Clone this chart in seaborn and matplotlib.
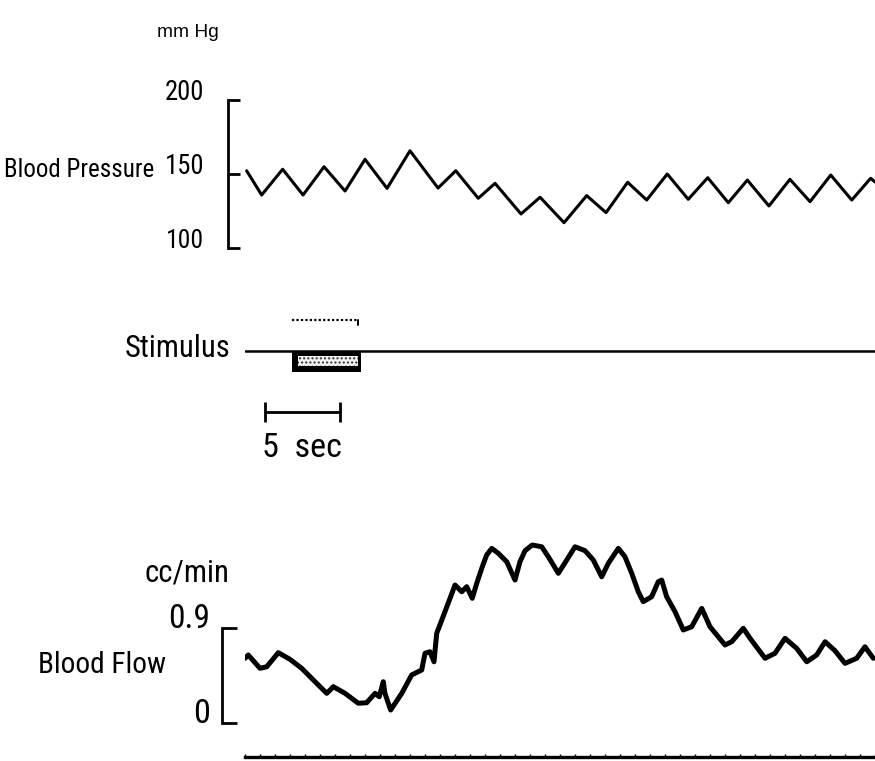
import matplotlib
matplotlib.use("Agg")
import matplotlib.pyplot as plt
import matplotlib.transforms as mtransforms
from matplotlib import font_manager
import seaborn as sns
import numpy as np

# ---------------- data ----------------
# Blood pressure trace (time in s, mmHg)
bp_t = [0.11, 1.11, 2.51, 3.87, 5.27, 6.67, 8.00, 9.47, 11.00, 12.87,
        14.05, 15.55, 16.67, 18.40, 19.67, 21.27, 22.78, 24.07, 25.51, 26.78,
        28.15, 29.55, 30.85, 32.22, 33.49, 34.93, 36.33, 37.67, 39.05, 40.45,
        41.71, 42.0]
bp_v = [152.2, 135.8, 153.2, 135.8, 154.9, 138.5, 159.9, 140.3, 165.7, 140.5,
        152.2, 133.6, 143.7, 123.0, 134.3, 117.1, 135.4, 123.9, 144.4, 132.4,
        150.0, 132.9, 147.5, 130.6, 145.9, 128.4, 146.4, 131.3, 149.3, 132.4,
        147.1, 144.6]
bp_ticks = [100, 150, 200]
bp_ticklabels = ["100", "150", "200"]

# Blood flow trace (time in s, cc/min)
flow_t = [0.00, 0.22, 1.00, 1.45, 2.22, 3.00, 3.78, 4.67, 5.45, 5.89,
          6.67, 7.55, 8.11, 8.67, 8.95, 9.22, 9.33, 9.71, 10.45, 11.11,
          11.78, 12.00, 12.33, 12.60, 12.78, 13.22, 13.67, 14.00, 14.45, 14.78,
          15.15, 15.45, 15.82, 16.11, 16.45, 16.89, 17.45, 18.00, 18.33, 18.67,
          19.15, 19.78, 20.22, 20.89, 21.45, 22.00, 22.67, 23.22, 23.78, 24.22,
          24.89, 25.33, 25.78, 26.22, 26.55, 27.11, 27.55, 27.78, 28.11, 28.67,
          29.22, 29.78, 30.45, 31.00, 32.00, 32.45, 33.22, 33.67, 34.67, 35.33,
          36.00, 36.78, 37.45, 38.11, 38.67, 39.33, 40.00, 40.78, 41.33, 41.89]
flow_v = [0.613, 0.644, 0.518, 0.533, 0.666, 0.603, 0.518, 0.391, 0.281, 0.344,
          0.281, 0.187, 0.192, 0.281, 0.249, 0.391, 0.281, 0.123, 0.281, 0.455,
          0.502, 0.660, 0.675, 0.580, 0.849, 1.013, 1.181, 1.307, 1.243, 1.291,
          1.181, 1.323, 1.480, 1.591, 1.654, 1.607, 1.527, 1.354, 1.527, 1.632,
          1.686, 1.669, 1.575, 1.418, 1.544, 1.669, 1.632, 1.544, 1.385, 1.512,
          1.654, 1.575, 1.418, 1.243, 1.149, 1.196, 1.338, 1.354, 1.196, 1.054,
          0.881, 0.912, 1.086, 0.912, 0.739, 0.770, 0.897, 0.802, 0.613, 0.660,
          0.802, 0.707, 0.580, 0.644, 0.770, 0.685, 0.565, 0.613, 0.722, 0.613]
flow_ticks = [0, 0.9]
flow_ticklabels = ["0", "0.9"]

# Stimulus (on between these times, seconds)
stim_on = 3.1
stim_off = 7.7
t_end = 42.0
scale_start = 1.3
scale_len = 5  # seconds

# ---------------- figure ----------------
sns.set_theme(style="white")
available = {f.name for f in font_manager.fontManager.ttflist}
narrow_candidates = ["Liberation Sans Narrow", "Roboto Condensed",
                     "Noto Sans Condensed", "Open Sans Condensed",
                     "DejaVu Sans Condensed", "Arial Narrow", "Liberation Sans"]
NARROW_NAME = next((n for n in narrow_candidates if n in available), "DejaVu Sans")
NARROW = [NARROW_NAME, "DejaVu Sans"]
REG = ["Liberation Sans", "DejaVu Sans"]
plt.rcParams["font.family"] = NARROW

W, H = 875, 761
fig = plt.figure(figsize=(W / 100, H / 100), dpi=100)
fig.patch.set_facecolor("white")
fit_list = []  # (text, max width px)


def px_axes(x0, x1, ytop, ybot):
    return fig.add_axes([x0 / W, 1 - ybot / H, (x1 - x0) / W, (ybot - ytop) / H])


def fx(px):
    return px / W


def fy(px):
    return 1 - px / H


# --- Blood pressure panel ---
ax_bp = px_axes(245, 875, 100, 248)
ax_bp.set_xlim(0, t_end)
ax_bp.set_ylim(100, 200)
sns.lineplot(x=bp_t, y=bp_v, ax=ax_bp, color="black", lw=2.2, sort=False,
             estimator=None)
for ln in ax_bp.lines:
    ln.set_clip_on(False)
    ln.set_solid_joinstyle("round")
for s in ["top", "right", "bottom"]:
    ax_bp.spines[s].set_visible(False)
ax_bp.spines["left"].set_position(("outward", 12.2))
ax_bp.spines["left"].set_bounds(100, 200)
ax_bp.spines["left"].set_linewidth(2.0)
ax_bp.spines["left"].set_color("black")
ax_bp.set_xticks([])
ax_bp.set_yticks(bp_ticks)
ax_bp.tick_params(axis="y", direction="in", length=8.6, width=2.0,
                  color="black", labelleft=False, left=True)
tr_bp = mtransforms.blended_transform_factory(fig.transFigure, ax_bp.transData)
for v, lab, w in zip(bp_ticks, bp_ticklabels, [38, 45, 40]):
    t = ax_bp.text(fx(204), v, lab, transform=tr_bp, ha="right", va="baseline",
                   fontsize=19.2, color="black")
    fit_list.append((t, w))
t = fig.text(fx(154), fy(177), "Blood Pressure", ha="right", va="baseline",
             fontsize=20.2, color="black")
fit_list.append((t, 150))
t = fig.text(fx(188), fy(37), "mm Hg", ha="center", va="baseline",
             fontsize=13.8, color="black", family=REG)
fit_list.append((t, 66))

# --- Stimulus panel ---
ax_st = px_axes(245, 875, 290, 470)
ax_st.set_xlim(0, t_end)
ax_st.set_ylim(-5.667, 2.905)
ax_st.axis("off")
st_t = [0, stim_on, stim_off, t_end]
st_v = [0, -1, 0, 0]
ax_st.fill_between(st_t, st_v, 0, step="post", color="black", lw=0)
ax_st.fill_between([stim_on + 0.4, stim_off - 0.2], -0.72, -0.22,
                   facecolor="#f2f2f2", edgecolor="#333333", hatch="....",
                   lw=0)
sns.lineplot(x=[0, t_end], y=[0, 0], ax=ax_st, color="black", lw=1.8)
ax_st.plot([stim_on, stim_off - 0.2], [1.48, 1.48], color="black", lw=1.6,
           ls=(0, (1, 1)))
ax_st.plot([stim_off - 0.2, stim_off - 0.2], [1.48, 1.25], color="black", lw=1.4)
t = fig.text(fx(231), fy(357), "Stimulus", ha="right", va="baseline",
             fontsize=25, color="black")
fit_list.append((t, 106))
# 5 sec scale bar
ax_st.plot([scale_start, scale_start + scale_len], [-2.9, -2.9], color="black",
           lw=2.0, marker="|", markersize=14, mew=2.0)
t = ax_st.text(scale_start + scale_len / 2, -3.857, f"{scale_len}  sec",
               ha="center", va="top", fontsize=25, color="black")
fit_list.append((t, 80))

# --- Blood flow panel ---
ax_fl = px_axes(245, 875, 530, 757)
ax_fl.set_xlim(0, t_end)
ax_fl.set_ylim(-0.322, 1.828)
sns.lineplot(x=flow_t, y=flow_v, ax=ax_fl, color="black", lw=3.6, sort=False,
             estimator=None)
for ln in ax_fl.lines:
    ln.set_solid_joinstyle("round")
for s in ["top", "right"]:
    ax_fl.spines[s].set_visible(False)
ax_fl.spines["left"].set_position(("outward", 16.6))
ax_fl.spines["left"].set_bounds(0, 0.9)
ax_fl.spines["left"].set_linewidth(2.0)
ax_fl.spines["left"].set_color("black")
ax_fl.spines["bottom"].set_linewidth(2.4)
ax_fl.spines["bottom"].set_color("black")
ax_fl.set_yticks(flow_ticks)
ax_fl.tick_params(axis="y", direction="in", length=10.8, width=2.0,
                  color="black", labelleft=False, left=True)
ax_fl.set_xticks(np.arange(0, t_end + 0.01, 1.0))
ax_fl.tick_params(axis="x", direction="in", length=2.5, width=1.0,
                  color="black", labelbottom=False, bottom=True)
tr_fl = mtransforms.blended_transform_factory(fig.transFigure, ax_fl.transData)
for v, lab, w in zip(flow_ticks, flow_ticklabels, [17, 42]):
    t = ax_fl.text(fx(210), v, lab, transform=tr_fl, ha="right", va="baseline",
                   fontsize=25, color="black")
    fit_list.append((t, w))
t = fig.text(fx(166), fy(673), "Blood Flow", ha="right", va="baseline",
             fontsize=22.3, color="black")
fit_list.append((t, 128))
t = fig.text(fx(229), fy(581), "cc/min", ha="right", va="baseline",
             fontsize=24.5, color="black")
fit_list.append((t, 85))

# keep each label at the reference height, but no wider than its room allows
renderer = fig.canvas.get_renderer()
for txt, max_w in fit_list:
    bb = txt.get_window_extent(renderer)
    if bb.width > 0:
        factor = min(1.0, max_w / bb.width)
        txt.set_fontsize(txt.get_fontsize() * factor)

fig.savefig("out.png", dpi=100, facecolor="white")
